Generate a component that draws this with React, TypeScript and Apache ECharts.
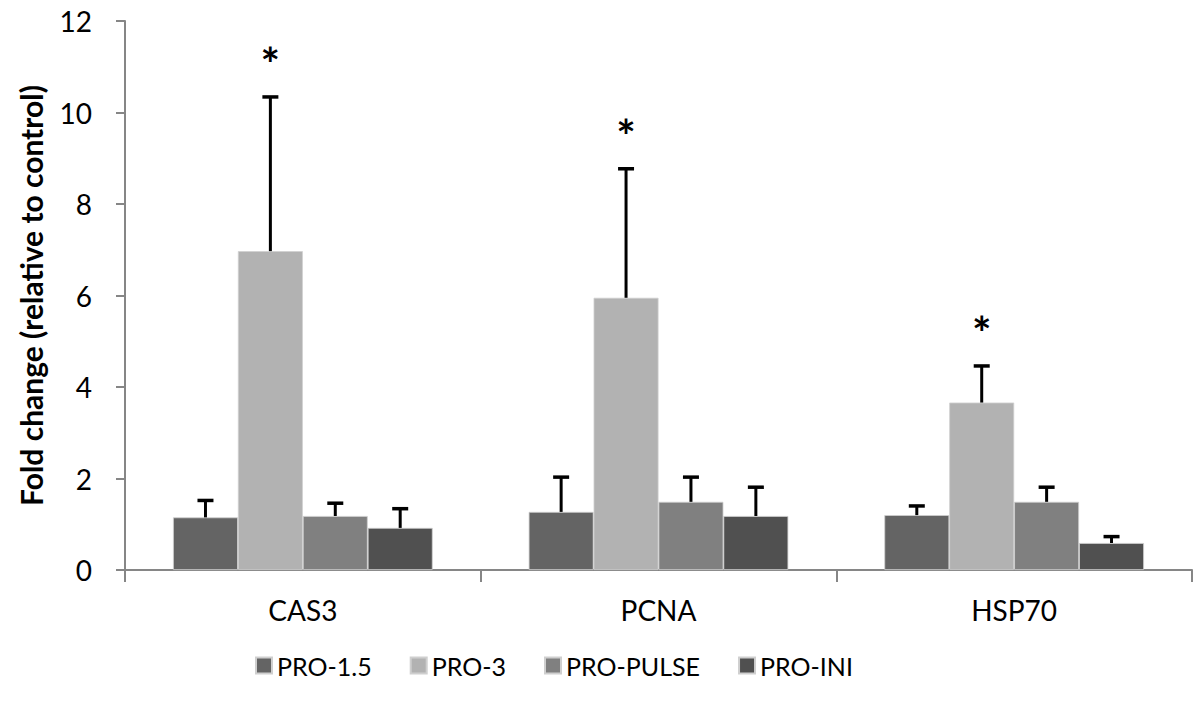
import React, { useEffect, useRef } from "react";
import * as echarts from "echarts";

const categories = ["CAS3", "PCNA", "HSP70"];
const seriesNames = ["PRO-1.5", "PRO-3", "PRO-PULSE", "PRO-INI"];
const seriesColors = ["#646464", "#b2b2b2", "#808080", "#505050"];
const pro15 = [1.15, 1.27, 1.2];
const pro3 = [6.97, 5.95, 3.66];
const proPulse = [1.18, 1.49, 1.49];
const proIni = [0.92, 1.18, 0.59];
const pro15Err = [1.52, 2.03, 1.4];
const pro3Err = [10.34, 8.77, 4.46];
const proPulseErr = [1.46, 2.03, 1.81];
const proIniErr = [1.34, 1.81, 0.73];
const significant = [
  [false, false, false],
  [true, true, true],
  [false, false, false],
  [false, false, false],
];
const yTicks = { min: 0, max: 12, interval: 2 };

const FONT = "Lato, 'Open Sans', sans-serif";
const BAR_GAP_CAT = 0.27;

export default function App() {
  const ref = useRef<HTMLDivElement>(null);
  useEffect(() => {
    document.body.style.margin = "0";
    const chart = echarts.init(ref.current!, null, { renderer: "svg" });
    const values = [pro15, pro3, proPulse, proIni];
    const errs = [pro15Err, pro3Err, proPulseErr, proIniErr];
    const errData: any[] = [];
    values.forEach((vals, s) => {
      vals.forEach((v, c) => {
        errData.push([c, s, v, errs[s][c], significant[s][c] ? 1 : 0]);
      });
    });
    const n = seriesNames.length;
    chart.setOption({
      animation: false,
      grid: { left: 125, right: 6, top: 21, bottom: 143, containLabel: false },
      legend: {
        data: seriesNames,
        bottom: 30,
        left: 250,
        itemWidth: 16,
        itemHeight: 16,
        itemGap: 38,
        icon: "rect",
        textStyle: { fontSize: 25, fontFamily: FONT, color: "#000" },
      },
      xAxis: {
        type: "category",
        data: categories,
        axisLine: { lineStyle: { color: "#868686", width: 2 } },
        axisTick: { show: true, alignWithLabel: false, length: 12, lineStyle: { color: "#868686", width: 2 } },
        axisLabel: { fontSize: 28, fontFamily: FONT, color: "#000", margin: 26 },
      },
      yAxis: {
        type: "value",
        min: yTicks.min,
        max: yTicks.max,
        interval: yTicks.interval,
        name: "Fold change (relative to control)",
        nameLocation: "middle",
        nameGap: 79,
        nameTextStyle: { fontSize: 30, fontWeight: "bold", fontFamily: FONT, color: "#000" },
        axisLine: { show: true, lineStyle: { color: "#868686", width: 2 } },
        axisTick: { show: true, length: 9, lineStyle: { color: "#868686", width: 2 } },
        axisLabel: { fontSize: 28, fontFamily: FONT, color: "#000", margin: 33 },
        splitLine: { show: false },
      },
      series: [
        ...seriesNames.map((name, s) => ({
          type: "bar",
          name,
          data: values[s],
          barGap: "0%",
          barCategoryGap: BAR_GAP_CAT * 100 + "%",
          itemStyle: { color: seriesColors[s], borderColor: "#cfcfcf", borderWidth: 0.8 },
        })),
        {
          type: "custom",
          name: "err",
          data: errData,
          encode: { x: 0, y: 3 },
          z: 10,
          renderItem: (params: any, api: any) => {
            const c = api.value(0);
            const s = api.value(1);
            const v = api.value(2);
            const e = api.value(3);
            const star = api.value(4);
            const catW = api.size([1, 0])[0];
            const bw = (catW * (1 - BAR_GAP_CAT)) / n;
            const base = api.coord([c, v]);
            const top = api.coord([c, e]);
            const x = base[0] + (s - (n - 1) / 2) * bw;
            const children: any[] = [
              { type: "line", shape: { x1: x, y1: base[1], x2: x, y2: top[1] }, style: { stroke: "#000", lineWidth: 3 } },
              { type: "line", shape: { x1: x - 8, y1: top[1], x2: x + 8, y2: top[1] }, style: { stroke: "#000", lineWidth: 3.5 } },
            ];
            if (star) {
              children.push({
                type: "text",
                style: {
                  text: "*",
                  x,
                  y: top[1] - 33,
                  align: "center",
                  verticalAlign: "middle",
                  fontSize: 46,
                  fontWeight: "bold",
                  fontFamily: FONT,
                  fill: "#000",
                },
              });
            }
            return { type: "group", children };
          },
        },
      ],
    });
    return () => chart.dispose();
  }, []);
  return <div ref={ref} style={{ width: 1198, height: 713, position: "absolute", left: 0, top: 0 }} />;
}
